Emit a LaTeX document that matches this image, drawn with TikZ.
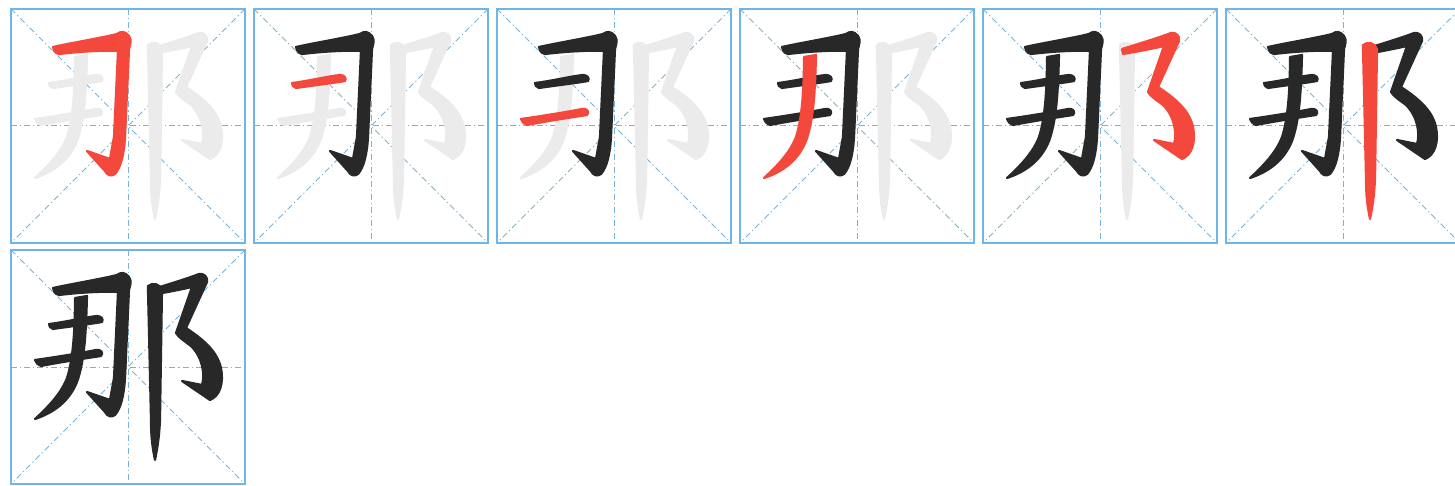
\documentclass[tikz,border=0pt]{standalone}
\begin{document}
\definecolor{boxblue}{RGB}{110,182,234}
\definecolor{guide}{RGB}{120,178,215}
\definecolor{ghost}{RGB}{235,235,235}
\definecolor{inkdark}{RGB}{40,40,40}
\definecolor{inkred}{RGB}{244,72,60}
\newcommand{\stkA}[1]{\filldraw[ink=#1] (42,38) .. controls (60,34) and (90,29) .. (106,25) .. controls (110,22) and (114,22) .. (118,27) .. controls (121,31) and (119,36) .. (118,40) -- (114,128) .. controls (113,145) and (110,158) .. (104,165) .. controls (100,168) and (96,166) .. (94,162) -- (76,142) -- (99,150) -- (103,128) -- (107,42) .. controls (90,41) and (65,43) .. (48,45) .. controls (44,44) and (42,41) .. (42,38) -- cycle;}
\newcommand{\stkB}[1]{\filldraw[ink=#1] (38,74) .. controls (55,72) and (75,67) .. (86,66) .. controls (90,66) and (93,69) .. (91,72) .. controls (80,74) and (55,77) .. (42,79) .. controls (39,78) and (38,76) .. (38,74) -- cycle;}
\newcommand{\stkC}[1]{\filldraw[ink=#1] (24,110) .. controls (45,107) and (70,103) .. (85,100) .. controls (90,99) and (93,103) .. (90,106) .. controls (70,109) and (45,113) .. (30,116) .. controls (27,115) and (25,113) .. (24,110) -- cycle;}
\newcommand{\stkD}[1]{\filldraw[ink=#1] (76,46) .. controls (75,80) and (74,110) .. (66,132) .. controls (58,152) and (42,163) .. (24,169) .. controls (36,158) and (50,144) .. (56,128) .. controls (62,110) and (64,80) .. (64,48) -- cycle;}
\newcommand{\stkE}[1]{\filldraw[ink=#1] (139,40) .. controls (155,35) and (175,29) .. (188,24) .. controls (193,23) and (197,27) .. (196,32) -- (175,78) .. controls (190,88) and (206,100) .. (210,118) .. controls (213,133) and (209,146) .. (199,150) -- (171,131) -- (191,135) .. controls (194,125) and (192,108) .. (180,96) .. controls (175,92) and (168,88) .. (165,83) -- (181,37) .. controls (168,40) and (152,43) .. (140,45) -- cycle;}
\newcommand{\stkF}[1]{\filldraw[ink=#1] (137,36) .. controls (142,32) and (149,34) .. (151,40) -- (149,170) .. controls (148,190) and (146,200) .. (144,210) .. controls (142,200) and (140,190) .. (140,170) -- (137,40) -- cycle;}
\newcommand{\gridbox}[2]{%
\begin{scope}[shift={(#1,#2)}]
\draw[guidestyle] (0,117) -- (234,117);
\draw[guidestyle] (117,0) -- (117,234);
\draw[guidestyle] (0,0) -- (234,234);
\draw[guidestyle] (234,0) -- (0,234);
\draw[boxstyle] (0,0) rectangle (234,234);
\end{scope}}
\newcommand{\ghostall}{\stkA{ghost}\stkB{ghost}\stkC{ghost}\stkD{ghost}\stkE{ghost}\stkF{ghost}}
\begin{tikzpicture}[x=0.5pt,y=-0.5pt,
  guidestyle/.style={guide,line width=0.5pt,dash pattern=on 3pt off 1.5pt on 0.6pt off 1.5pt},
  boxstyle/.style={boxblue,line width=1.3pt},
  ink/.style={draw=#1,fill=#1,line width=1.1pt,line join=round}]
\useasboundingbox (0,0) rectangle (1455,486);
\fill[white] (0,0) rectangle (1455,486);
\begin{scope}
\clip (0,0) rectangle (1455,486);
\gridbox{11}{9}\gridbox{254}{9}\gridbox{497}{9}\gridbox{740}{9}\gridbox{983}{9}\gridbox{1226}{9}\gridbox{11}{250}
\begin{scope}[shift={(11,9)}]
\ghostall \stkA{inkred}
\end{scope}
\begin{scope}[shift={(254,9)}]
\ghostall \stkA{inkdark} \stkB{inkred}
\end{scope}
\begin{scope}[shift={(497,9)}]
\ghostall \stkA{inkdark}\stkB{inkdark} \stkC{inkred}
\end{scope}
\begin{scope}[shift={(740,9)}]
\ghostall \stkA{inkdark}\stkB{inkdark}\stkC{inkdark} \stkD{inkred}
\end{scope}
\begin{scope}[shift={(983,9)}]
\ghostall \stkA{inkdark}\stkB{inkdark}\stkC{inkdark}\stkD{inkdark} \stkE{inkred}
\end{scope}
\begin{scope}[shift={(1226,9)}]
\stkA{inkdark}\stkB{inkdark}\stkC{inkdark}\stkD{inkdark}\stkE{inkdark} \stkF{inkred}
\end{scope}
\begin{scope}[shift={(11,250)}]
\stkA{inkdark}\stkB{inkdark}\stkC{inkdark}\stkD{inkdark}\stkE{inkdark}\stkF{inkdark}
\end{scope}
\end{scope}
\end{tikzpicture}
\end{document}
